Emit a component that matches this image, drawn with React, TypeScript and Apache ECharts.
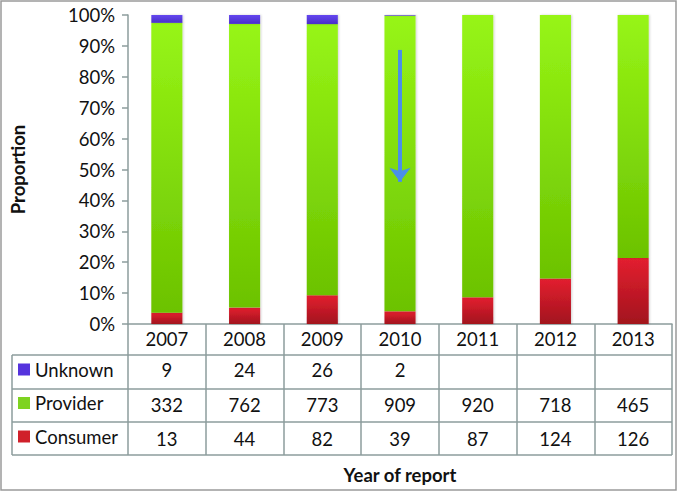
import React, { useEffect, useRef } from "react";
import * as echarts from "echarts";

const years = ["2007", "2008", "2009", "2010", "2011", "2012", "2013"];
const unknown: (number | null)[] = [9, 24, 26, 2, null, null, null];
const provider = [332, 762, 773, 909, 920, 718, 465];
const consumer = [13, 44, 82, 39, 87, 124, 126];
const yTicks = [0, 10, 20, 30, 40, 50, 60, 70, 80, 90, 100];
const arrowFrom = 88.7;
const arrowTo = 46;

const FONT = "Lato";
const FS = 18.5;
const LINE = "#8c9c9c";
const TXT = "#111";

function grad(top: string, bottom: string) {
  return new echarts.graphic.LinearGradient(0, 0, 0, 1, [
    { offset: 0, color: top },
    { offset: 1, color: bottom },
  ]);
}

export default function App() {
  const ref = useRef<HTMLDivElement>(null);
  useEffect(() => {
    if (!ref.current) return;
    const chart = echarts.init(ref.current, undefined, { renderer: "svg" });
    const totals = years.map((_, i) => (unknown[i] ?? 0) + provider[i] + consumer[i]);
    const pct = (arr: (number | null)[]) =>
      arr.map((v, i) => (v == null ? 0 : (v / totals[i]) * 100));
    const rowAxis = (vals: (number | null)[], offset: number, margin: number) => ({
      type: "category",
      data: years,
      position: "bottom",
      offset,
      axisLine: { show: false },
      axisTick: { show: false },
      axisLabel: {
        interval: 0,
        margin,
        fontFamily: FONT,
        fontSize: FS,
        color: TXT,
        formatter: (_v: string, i: number) => (vals[i] == null ? "" : String(vals[i])),
      },
    });
    const shadow = {
      shadowColor: "rgba(0,0,0,0.18)",
      shadowBlur: 2,
      shadowOffsetX: 1,
      shadowOffsetY: 0,
    };
    chart.setOption({
      animation: false,
      grid: { left: 127, right: 6, top: 15, bottom: 167, containLabel: false },
      legend: {
        orient: "vertical",
        left: 18,
        top: 360,
        padding: 0,
        itemGap: 14.5,
        itemWidth: 12,
        itemHeight: 12,
        icon: "rect",
        data: [
          { name: "Unknown", itemStyle: { color: "#5533dd" } },
          { name: "Provider", itemStyle: { color: "#7ed321" } },
          { name: "Consumer", itemStyle: { color: "#d0202a" } },
        ],
        textStyle: { fontFamily: FONT, fontSize: FS, color: TXT, lineHeight: 17 },
        selectedMode: false,
      },
      xAxis: [
        {
          type: "category",
          data: years,
          position: "bottom",
          axisLine: { show: true, lineStyle: { color: LINE, width: 1.5 } },
          axisTick: { show: true, length: 131, lineStyle: { color: LINE, width: 1.5 } },
          axisLabel: { interval: 0, margin: 5.5, fontFamily: FONT, fontSize: FS, color: TXT },
        },
        rowAxis(unknown, 31, 5.5),
        rowAxis(provider, 65, 6),
        {
          ...rowAxis(consumer, 98, 7),
          name: "Year of report",
          nameLocation: "middle",
          nameGap: 43,
          nameTextStyle: { fontFamily: FONT, fontSize: FS, fontWeight: "bold", color: TXT },
        },
      ],
      yAxis: {
        type: "value",
        min: 0,
        max: 100,
        interval: 10,
        name: "Proportion",
        nameLocation: "middle",
        nameGap: 101,
        nameTextStyle: { fontFamily: FONT, fontSize: FS, fontWeight: "bold", color: TXT },
        axisLine: { show: true, lineStyle: { color: LINE, width: 1.5 } },
        axisTick: { show: true, length: 6, lineStyle: { color: LINE, width: 1.5 } },
        splitLine: { show: false },
        axisLabel: {
          margin: 13,
          fontFamily: FONT,
          fontSize: FS,
          color: TXT,
          customValues: yTicks,
          formatter: "{value}%",
        },
      },
      series: [
        {
          name: "Consumer",
          type: "bar",
          stack: "all",
          barWidth: "40%",
          data: pct(consumer),
          itemStyle: { color: grad("#e3202f", "#a2121e"), ...shadow },
        },
        {
          name: "Provider",
          type: "bar",
          stack: "all",
          barWidth: "40%",
          data: pct(provider),
          itemStyle: { color: grad("#97f516", "#6cc200"), ...shadow },
          markLine: {
            silent: true,
            symbol: ["none", "arrow"],
            symbolSize: [16, 14],
            label: { show: false },
            lineStyle: { color: "#4a8fe8", width: 4, type: "solid" },
            data: [[{ coord: ["2010", arrowFrom] }, { coord: ["2010", arrowTo] }]],
          },
        },
        {
          name: "Unknown",
          type: "bar",
          stack: "all",
          barWidth: "40%",
          data: pct(unknown),
          itemStyle: { color: grad("#6447f0", "#4a2fc8"), ...shadow },
        },
      ],
      graphic: [
        {
          type: "rect",
          shape: { x: 1, y: 1, width: 675, height: 489 },
          style: { fill: "none", stroke: "#9a9a9a", lineWidth: 1.5 },
          silent: true,
        },
        ...[355, 389, 422, 455].map((y) => ({
          type: "line",
          shape: { x1: 12, y1: y, x2: 672, y2: y },
          style: { stroke: LINE, lineWidth: 1.5 },
          silent: true,
        })),
        {
          type: "line",
          shape: { x1: 12, y1: 355, x2: 12, y2: 455 },
          style: { stroke: LINE, lineWidth: 1.5 },
          silent: true,
        },
      ],
    });
    return () => chart.dispose();
  }, []);
  return (
    <div
      ref={ref}
      style={{ position: "fixed", left: 0, top: 0, width: 678, height: 491, background: "#fff" }}
    />
  );
}
